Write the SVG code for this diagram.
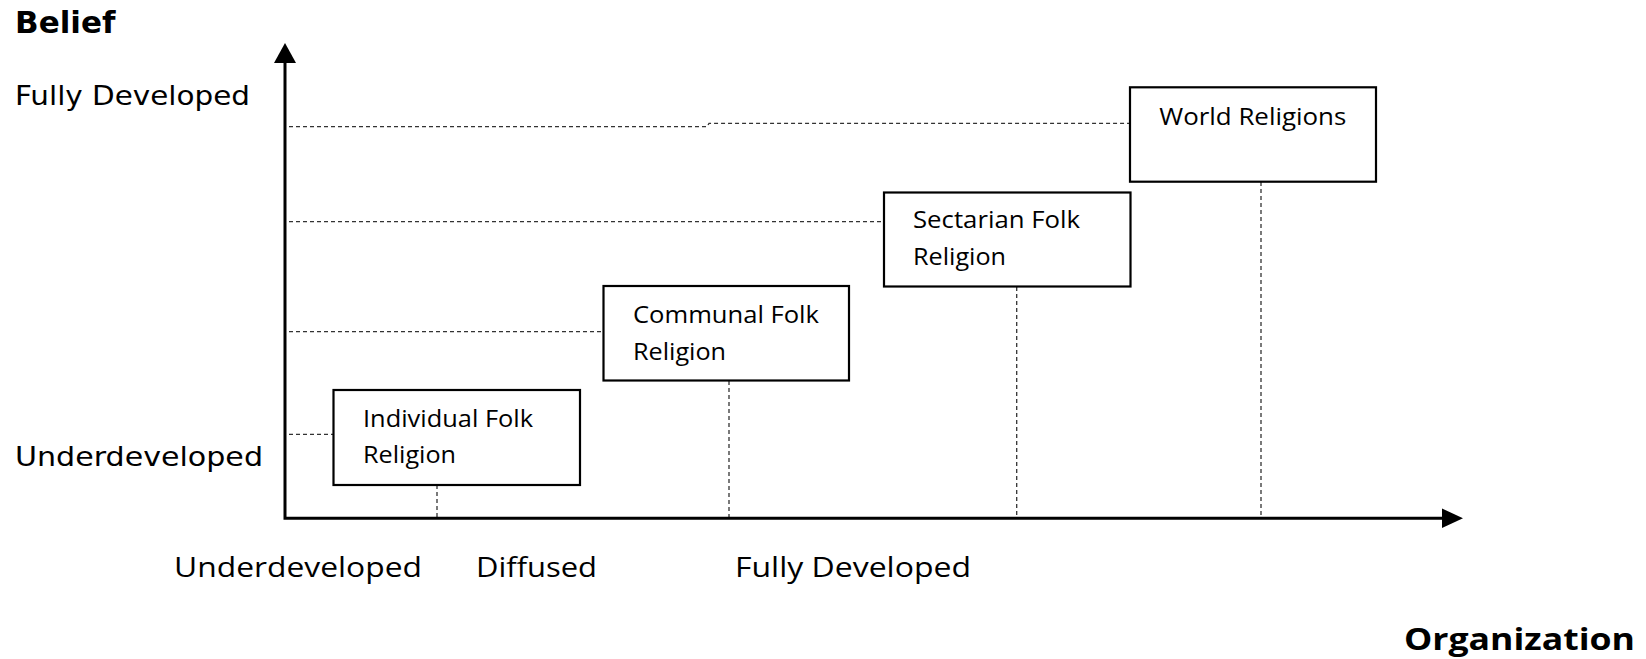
<svg xmlns="http://www.w3.org/2000/svg" width="1646" height="659" viewBox="0 0 1646 659">
<style>
.axis{stroke:#000;stroke-width:3;fill:none}
.dash{stroke:#333;stroke-width:1.3;stroke-dasharray:4 3;fill:none}
.box{fill:#fff;stroke:#000;stroke-width:2.2}
.bt{font-family:"Open Sans","Liberation Sans",sans-serif;font-size:23px;fill:#000}
.lbl{font-family:"DejaVu Sans","Liberation Sans",sans-serif;font-size:26.5px;fill:#000}
.bl{font-family:"Open Sans","Liberation Sans",sans-serif;font-size:28px;fill:#000}
.title{font-family:"DejaVu Sans","Liberation Sans",sans-serif;font-size:31px;font-weight:bold;fill:#000}
.title2{font-family:"Open Sans","Liberation Sans",sans-serif;font-size:31px;font-weight:bold;fill:#000}
</style>
<rect width="1646" height="659" fill="#fff"/>
<g id="connectors">
<polyline class="dash" points="289,126.7 707,126.7 709,123.3 1130,123.3"/>
<line class="dash" x1="289" y1="221.7" x2="884" y2="221.7"/>
<line class="dash" x1="289" y1="331.7" x2="603" y2="331.7"/>
<line class="dash" x1="289" y1="434.3" x2="333" y2="434.3"/>
<line class="dash" x1="437" y1="485" x2="437" y2="517"/>
<line class="dash" x1="729" y1="381" x2="729" y2="517"/>
<line class="dash" x1="1016.7" y1="287" x2="1016.7" y2="517"/>
<line class="dash" x1="1261" y1="182" x2="1261" y2="517"/>
</g>
<g id="axes">
<polyline class="axis" points="285,60 285,518.3 1445,518.3"/>
<polygon points="285,43 274,63 296,63" fill="#000"/>
<polygon points="1463,518.3 1442,508.5 1442,528" fill="#000"/>
</g>
<g id="labels">
<text class="title" x="15" y="33">Belief</text>
<text class="lbl" x="15" y="104.5" textLength="235" lengthAdjust="spacingAndGlyphs">Fully Developed</text>
<text class="lbl" x="15" y="466" textLength="248" lengthAdjust="spacingAndGlyphs">Underdeveloped</text>
<text class="bl" x="174" y="576.7" textLength="248" lengthAdjust="spacingAndGlyphs">Underdeveloped</text>
<text class="bl" x="476" y="576.7" textLength="121" lengthAdjust="spacingAndGlyphs">Diffused</text>
<text class="bl" x="735" y="576.7" textLength="236" lengthAdjust="spacingAndGlyphs">Fully Developed</text>
<text class="title2" x="1404" y="650" textLength="231" lengthAdjust="spacingAndGlyphs">Organization</text>
</g>
<g id="node-individual">
<rect class="box" x="333.5" y="390" width="246.5" height="95"/>
<text class="bt" x="363" y="427" textLength="170" lengthAdjust="spacingAndGlyphs">Individual Folk</text>
<text class="bt" x="363" y="462.5" textLength="93" lengthAdjust="spacingAndGlyphs">Religion</text>
</g>
<g id="node-communal">
<rect class="box" x="603.5" y="286" width="245.5" height="94.5"/>
<text class="bt" x="633" y="323" textLength="186" lengthAdjust="spacingAndGlyphs">Communal Folk</text>
<text class="bt" x="633" y="359.5" textLength="93" lengthAdjust="spacingAndGlyphs">Religion</text>
</g>
<g id="node-sectarian">
<rect class="box" x="884" y="192.5" width="246.5" height="94"/>
<text class="bt" x="913" y="228" textLength="167" lengthAdjust="spacingAndGlyphs">Sectarian Folk</text>
<text class="bt" x="913" y="264.5" textLength="93" lengthAdjust="spacingAndGlyphs">Religion</text>
</g>
<g id="node-world">
<rect class="box" x="1130" y="87.3" width="246" height="94.4"/>
<text class="bt" x="1159.3" y="125" textLength="187" lengthAdjust="spacingAndGlyphs">World Religions</text>
</g>
</svg>
